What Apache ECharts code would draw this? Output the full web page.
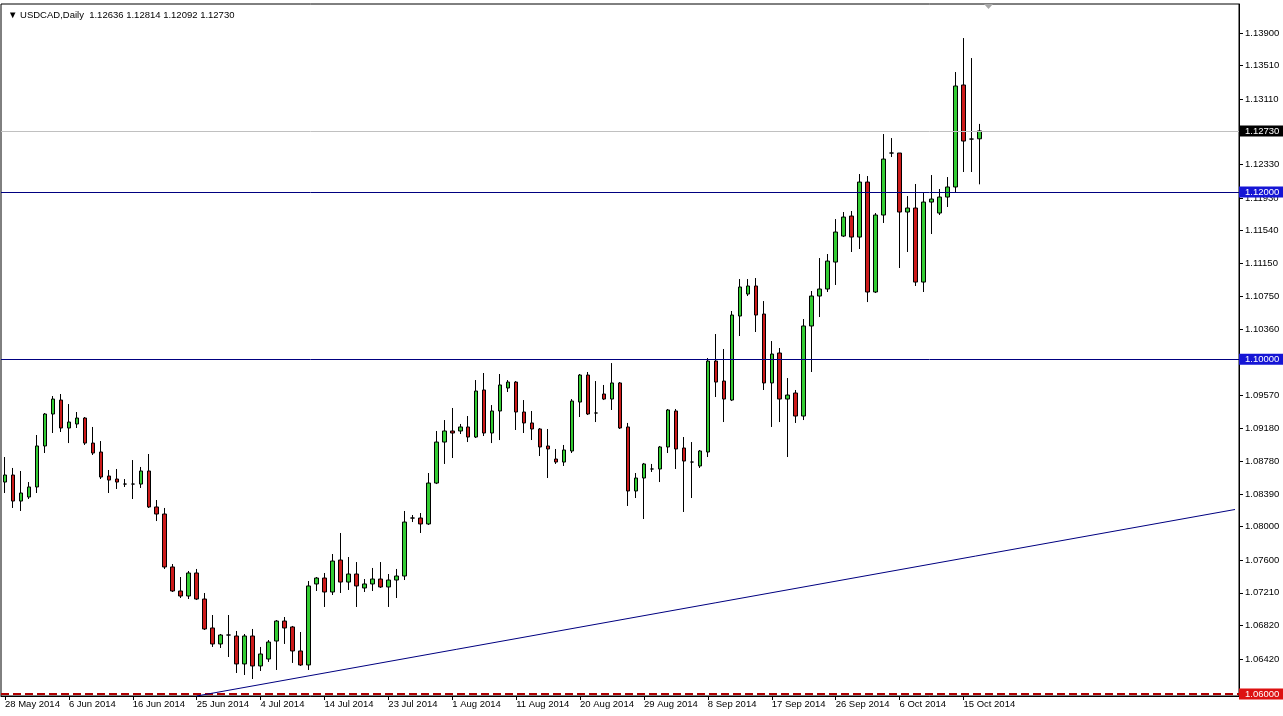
<!DOCTYPE html>
<html>
<head>
<meta charset="utf-8">
<script src="https://cdn.jsdelivr.net/npm/echarts@6/dist/echarts.min.js"></script>
<style>
html,body{margin:0;padding:0;background:#fff;}
#chart{width:1283px;height:716px;}
</style>
</head>
<body>
<div id="chart"></div>
<script>
// ---- data (USDCAD daily, 28 May 2014 - 17 Oct 2014) ----
const opens = [1.08534,1.08618,1.08307,1.08355,1.08475,1.08965,1.09347,1.09514,1.09180,1.09228,
1.09299,1.09000,1.08893,1.08606,1.08570,1.08510,1.08510,1.08510,1.08666,1.08236,
1.08152,1.07519,1.07232,1.07172,1.07447,1.07136,1.06790,1.06599,1.06706,1.06694,
1.06360,1.06694,1.06336,1.06419,1.06634,1.06873,1.06802,1.06515,1.06348,1.07316,
1.07387,1.07220,1.07602,1.07339,1.07435,1.07268,1.07316,1.07375,1.07280,1.07363,
1.07411,1.08104,1.08104,1.08033,1.08522,1.09012,1.09144,1.09144,1.09192,1.09072,
1.09634,1.09120,1.09383,1.09658,1.09729,1.09371,1.09240,1.09168,1.08965,1.08809,
1.08773,1.08905,1.09490,1.09813,1.09359,1.09586,1.09526,1.09718,1.09192,1.08427,
1.08582,1.08690,1.08690,1.08953,1.09383,1.08941,1.08773,1.08726,1.08893,1.09980,
1.09741,1.09514,1.10518,1.10781,1.10877,1.10542,1.09718,1.10076,1.09526,1.09598,
1.09323,1.10399,1.10757,1.10841,1.11163,1.11474,1.11713,1.11462,1.12119,1.10805,
1.11725,1.12466,1.12466,1.11761,1.11809,1.10924,1.11880,1.11749,1.11940,1.12060,
1.13279,1.12633,1.12636];
const closes = [1.08618,1.08307,1.08403,1.08475,1.08965,1.09347,1.09526,1.09180,1.09251,1.09299,
1.09000,1.08881,1.08594,1.08558,1.08534,1.08510,1.08510,1.08666,1.08236,1.08152,
1.07519,1.07232,1.07172,1.07447,1.07136,1.06778,1.06599,1.06706,1.06706,1.06360,
1.06694,1.06336,1.06479,1.06622,1.06873,1.06790,1.06515,1.06348,1.07292,1.07387,
1.07220,1.07590,1.07339,1.07435,1.07292,1.07316,1.07375,1.07280,1.07363,1.07411,
1.08056,1.08104,1.08033,1.08522,1.09012,1.09144,1.09120,1.09192,1.09072,1.09622,
1.09120,1.09383,1.09694,1.09729,1.09371,1.09240,1.09168,1.08953,1.08929,1.08773,
1.08917,1.09502,1.09813,1.09347,1.09359,1.09526,1.09718,1.09180,1.08427,1.08582,
1.08750,1.08690,1.08953,1.09395,1.08929,1.08785,1.08773,1.08905,1.09980,1.09729,
1.09526,1.10530,1.10865,1.10877,1.10530,1.09718,1.10064,1.09526,1.09574,1.09323,
1.10399,1.10757,1.10841,1.11175,1.11522,1.11701,1.11462,1.12119,1.10805,1.11725,
1.12394,1.12466,1.11761,1.11809,1.10924,1.11880,1.11916,1.11940,1.12060,1.13267,
1.12609,1.12633,1.12730];
const lows = [1.08403,1.08224,1.08188,1.08331,1.08403,1.08881,1.09120,1.09132,1.09000,1.09180,
1.08977,1.08857,1.08570,1.08403,1.08451,1.08475,1.08331,1.08463,1.08224,1.08068,
1.07495,1.07220,1.07148,1.07136,1.07124,1.06766,1.06563,1.06551,1.06443,1.06252,
1.06228,1.06180,1.06276,1.06384,1.06288,1.06599,1.06372,1.06336,1.06288,1.07232,
1.07041,1.07184,1.07208,1.07244,1.07041,1.07220,1.07232,1.07268,1.07041,1.07148,
1.07363,1.08056,1.07925,1.08021,1.08510,1.08750,1.08821,1.09108,1.09012,1.09060,
1.09084,1.09000,1.09036,1.09610,1.09156,1.09120,1.09036,1.08845,1.08582,1.08750,
1.08726,1.08881,1.09311,1.09335,1.09251,1.09514,1.09395,1.09168,1.08248,1.08343,
1.08092,1.08654,1.08534,1.08881,1.08690,1.08176,1.08343,1.08702,1.08833,1.09550,
1.09251,1.09502,1.10279,1.10757,1.10327,1.09634,1.09192,1.09251,1.08833,1.09240,
1.09275,1.09849,1.10506,1.10805,1.10889,1.11462,1.11283,1.11319,1.10685,1.10793,
1.11630,1.12418,1.11092,1.11283,1.10877,1.10805,1.11498,1.11725,1.11821,1.12000,
1.12239,1.12239,1.12092];
const highs = [1.08833,1.08702,1.08666,1.08534,1.09096,1.09359,1.09562,1.09586,1.09466,1.09371,
1.09311,1.09192,1.09024,1.08678,1.08690,1.08570,1.08797,1.08714,1.08869,1.08319,
1.08224,1.07554,1.07399,1.07471,1.07495,1.07208,1.06945,1.06718,1.06945,1.06754,
1.06718,1.06778,1.06563,1.06646,1.06885,1.06921,1.06814,1.06742,1.07351,1.07399,
1.07447,1.07674,1.07925,1.07638,1.07578,1.07375,1.07507,1.07578,1.07435,1.07495,
1.08188,1.08140,1.08164,1.08642,1.09144,1.09275,1.09419,1.09228,1.09323,1.09753,
1.09837,1.09454,1.09825,1.09753,1.09741,1.09514,1.09383,1.09180,1.09168,1.08929,
1.08977,1.09526,1.09825,1.09849,1.09741,1.09694,1.09956,1.09729,1.09240,1.08642,
1.08762,1.08750,1.08965,1.09407,1.09407,1.09072,1.09012,1.08917,1.10016,1.10303,
1.10124,1.10578,1.10960,1.10960,1.10972,1.10697,1.10219,1.10136,1.09777,1.09634,
1.10482,1.10817,1.11211,1.11259,1.11677,1.11761,1.11773,1.12215,1.12191,1.11749,
1.12693,1.12645,1.12466,1.11952,1.12096,1.11988,1.12203,1.12036,1.12179,1.13434,
1.13840,1.13601,1.12814];

const dateTicks = ['28 May 2014','6 Jun 2014','16 Jun 2014','25 Jun 2014','4 Jul 2014','14 Jul 2014',
'23 Jul 2014','1 Aug 2014','11 Aug 2014','20 Aug 2014','29 Aug 2014','8 Sep 2014','17 Sep 2014',
'26 Sep 2014','6 Oct 2014','15 Oct 2014'];
const barsPerTick = 8;
const totalSlots = 155; // bars shown incl. empty right margin

const priceTicks = [1.13900,1.13510,1.13110,1.12330,1.11930,1.11540,1.11150,1.10750,1.10360,
1.09570,1.09180,1.08780,1.08390,1.08000,1.07600,1.07210,1.06820,1.06420];

const levelBlue = [1.12000, 1.10000];
const lastPrice = 1.12730;
const levelRed = 1.06000;
const trendStart = {bar: 24, price: 1.05977};
const trendEnd = {bar: 154, price: 1.08206};

const yMin = 1.05977, yMax = 1.14247;
const titleText = '\u25BC USDCAD,Daily  1.12636 1.12814 1.12092 1.12730';

// ---- build ----
const categories = Array.from({length: totalSlots}, (_, i) => String(i));
const ohlc = opens.map((o, i) => [o, closes[i], lows[i], highs[i]]);

const FONT = 'Liberation Sans';
const tickShown = (idx) => idx % barsPerTick === 0 && idx / barsPerTick < dateTicks.length;

function levelLine(v, color, bg, type, width) {
  return {
    yAxis: v,
    lineStyle: {color: color, type: type || 'solid', width: width || 1},
    label: {
      show: true, position: 'end', distance: 0,
      formatter: v.toFixed(5),
      color: '#fff', backgroundColor: bg,
      fontFamily: FONT, fontSize: 9.5,
      padding: [1, 4, 0, 6]
    }
  };
}

const chart = echarts.init(document.getElementById('chart'), null, {renderer: 'canvas'});
chart.setOption({
  animation: false,
  backgroundColor: '#fff',
  title: {
    text: titleText, left: 3, top: 5,
    textStyle: {fontFamily: FONT, fontSize: 9.5, fontWeight: 'normal', color: '#000'}
  },
  grid: {left: 1, right: 44, top: 4, bottom: 20, show: true, borderColor: '#000', borderWidth: 1, backgroundColor: '#fff'},
  xAxis: {
    type: 'category', data: categories, boundaryGap: true,
    axisLine: {show: true, lineStyle: {color: '#000'}},
    axisTick: {show: true, interval: (i) => tickShown(i), alignWithLabel: true, length: 4, lineStyle: {color: '#000'}},
    axisLabel: {
      interval: (i) => tickShown(i),
      formatter: (v, i) => tickShown(i) ? dateTicks[i / barsPerTick] : '',
      align: 'left', margin: 3, color: '#000', fontFamily: FONT, fontSize: 9.5
    },
    splitLine: {show: false}
  },
  yAxis: {
    type: 'value', position: 'right', min: yMin, max: yMax, scale: true,
    splitLine: {show: false},
    axisLine: {show: true, lineStyle: {color: '#000'}},
    axisTick: {show: true, length: 4, customValues: priceTicks, lineStyle: {color: '#000'}},
    axisLabel: {
      customValues: priceTicks, formatter: (v) => v.toFixed(5),
      margin: 6, color: '#000', fontFamily: FONT, fontSize: 9.5
    }
  },
  graphic: [{
    type: 'polygon', silent: true,
    shape: {points: [[984, 4], [993, 4], [988.5, 9]]},
    style: {fill: '#a8a8a8'}
  }],
  series: [{
    type: 'candlestick',
    data: ohlc,
    barWidth: 4,
    itemStyle: {
      color: '#33cc33', color0: '#cc1a1a',
      borderColor: '#000', borderColor0: '#000', borderColorDoji: '#000',
      borderWidth: 1
    },
    markLine: {
      silent: true, symbol: ['none', 'none'], animation: false, precision: 5,
      data: [
        levelLine(lastPrice, '#c0c0c0', '#000'),
        levelLine(levelBlue[0], '#000080', '#1515d5'),
        levelLine(levelBlue[1], '#000080', '#1515d5'),
        levelLine(levelRed, '#b00000', '#dd1111', [8, 4], 2),
        [
          {coord: [String(trendStart.bar), trendStart.price], lineStyle: {color: '#000080', width: 1, type: 'solid'}, label: {show: false}},
          {coord: [String(trendEnd.bar), trendEnd.price]}
        ]
      ]
    }
  }]
});
</script>
</body>
</html>
